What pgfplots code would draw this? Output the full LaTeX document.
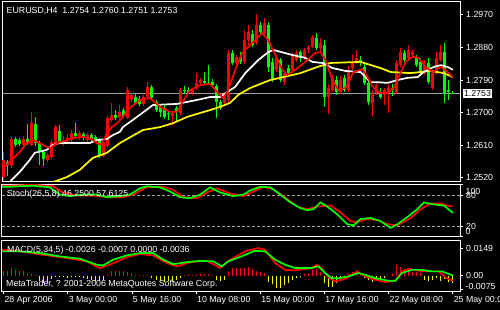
\documentclass[border=0pt]{standalone}
\usepackage{pgfplots}
\usepackage{pgfplotstable}
\pgfplotsset{compat=1.18}
\usepackage{fontspec}
\setmainfont{Liberation Sans}
\definecolor{mtred}{RGB}{255,0,0}
\definecolor{mtlime}{RGB}{0,255,0}
\definecolor{mtyellow}{RGB}{255,255,0}
\definecolor{mtgray}{RGB}{160,160,160}
\newcommand{\mtfont}{\fontsize{8.8}{10}\selectfont}

\pgfplotstableread{
k O H L C
1 1.2522 1.2591 1.2514 1.2569
2 1.2564 1.2569 1.2525 1.2555
3 1.2553 1.2633 1.2547 1.2627
4 1.2627 1.2633 1.2605 1.2611
5 1.2624 1.2630 1.2608 1.2613
6 1.2611 1.2635 1.2608 1.2627
7 1.2627 1.2669 1.2611 1.2616
8 1.2611 1.2702 1.2608 1.2671
9 1.2669 1.2688 1.2608 1.2616
10 1.2616 1.2622 1.2555 1.2594
11 1.2591 1.2597 1.2553 1.2572
12 1.2569 1.2589 1.2564 1.2583
13 1.2578 1.2624 1.2572 1.2619
14 1.2616 1.2666 1.2611 1.2660
15 1.2649 1.2666 1.2613 1.2619
16 1.2619 1.2635 1.2608 1.2624
17 1.2622 1.2641 1.2616 1.2630
18 1.2624 1.2652 1.2619 1.2644
19 1.2644 1.2671 1.2630 1.2635
20 1.2630 1.2649 1.2624 1.2644
21 1.2641 1.2647 1.2624 1.2630
22 1.2624 1.2644 1.2619 1.2638
23 1.2638 1.2644 1.2619 1.2627
24 1.2633 1.2638 1.2619 1.2624
25 1.2624 1.2630 1.2575 1.2583
26 1.2580 1.2624 1.2578 1.2619
27 1.2608 1.2691 1.2602 1.2685
28 1.2680 1.2727 1.2674 1.2693
29 1.2693 1.2707 1.2680 1.2685
30 1.2688 1.2721 1.2682 1.2702
31 1.2707 1.2713 1.2685 1.2691
32 1.2685 1.2771 1.2682 1.2762
33 1.2735 1.2754 1.2729 1.2749
34 1.2743 1.2751 1.2724 1.2727
35 1.2738 1.2746 1.2718 1.2724
36 1.2724 1.2749 1.2718 1.2743
37 1.2743 1.2784 1.2738 1.2771
38 1.2771 1.2776 1.2735 1.2740
39 1.2729 1.2735 1.2702 1.2707
40 1.2716 1.2721 1.2688 1.2702
41 1.2713 1.2718 1.2682 1.2688
42 1.2699 1.2707 1.2680 1.2696
43 1.2691 1.2702 1.2666 1.2699
44 1.2713 1.2718 1.2674 1.2702
45 1.2699 1.2768 1.2693 1.2762
46 1.2762 1.2773 1.2751 1.2760
47 1.2762 1.2771 1.2751 1.2754
48 1.2754 1.2768 1.2749 1.2762
49 1.2768 1.2809 1.2762 1.2782
50 1.2782 1.2796 1.2776 1.2790
51 1.2787 1.2812 1.2776 1.2782
52 1.2782 1.2831 1.2776 1.2779
53 1.2784 1.2793 1.2768 1.2776
54 1.2773 1.2779 1.2685 1.2729
55 1.2729 1.2735 1.2707 1.2713
56 1.2727 1.2749 1.2718 1.2743
57 1.2735 1.2873 1.2727 1.2865
58 1.2865 1.2873 1.2831 1.2837
59 1.2837 1.2859 1.2829 1.2854
60 1.2854 1.2867 1.2834 1.2840
61 1.2840 1.2928 1.2834 1.2900
62 1.2900 1.2942 1.2887 1.2923
63 1.2917 1.2928 1.2881 1.2887
64 1.2892 1.2972 1.2887 1.2942
65 1.2942 1.2950 1.2917 1.2923
66 1.2920 1.2961 1.2914 1.2947
67 1.2942 1.2950 1.2812 1.2826
68 1.2840 1.2851 1.2784 1.2790
69 1.2818 1.2859 1.2812 1.2851
70 1.2845 1.2851 1.2784 1.2790
71 1.2784 1.2818 1.2776 1.2809
72 1.2823 1.2831 1.2801 1.2809
73 1.2818 1.2867 1.2812 1.2859
74 1.2845 1.2873 1.2840 1.2865
75 1.2867 1.2873 1.2840 1.2851
76 1.2851 1.2878 1.2845 1.2873
77 1.2873 1.2887 1.2865 1.2881
78 1.2881 1.2914 1.2878 1.2909
79 1.2906 1.2920 1.2873 1.2878
80 1.2878 1.2906 1.2867 1.2892
81 1.2887 1.2900 1.2716 1.2743
82 1.2743 1.2776 1.2696 1.2768
83 1.2762 1.2804 1.2757 1.2796
84 1.2790 1.2801 1.2749 1.2757
85 1.2757 1.2801 1.2751 1.2790
86 1.2796 1.2804 1.2757 1.2762
87 1.2762 1.2829 1.2757 1.2818
88 1.2823 1.2859 1.2818 1.2840
89 1.2840 1.2873 1.2834 1.2851
90 1.2845 1.2856 1.2829 1.2837
91 1.2826 1.2837 1.2776 1.2782
92 1.2782 1.2790 1.2721 1.2729
93 1.2727 1.2762 1.2691 1.2757
94 1.2754 1.2784 1.2749 1.2776
95 1.2757 1.2768 1.2738 1.2743
96 1.2749 1.2768 1.2721 1.2762
97 1.2757 1.2776 1.2699 1.2768
98 1.2768 1.2779 1.2746 1.2762
99 1.2757 1.2845 1.2751 1.2837
100 1.2831 1.2878 1.2826 1.2867
101 1.2865 1.2873 1.2840 1.2845
102 1.2851 1.2887 1.2845 1.2873
103 1.2859 1.2873 1.2851 1.2867
104 1.2851 1.2859 1.2826 1.2831
105 1.2840 1.2851 1.2804 1.2809
106 1.2812 1.2845 1.2804 1.2831
107 1.2837 1.2851 1.2779 1.2784
108 1.2768 1.2818 1.2762 1.2809
109 1.2809 1.2867 1.2804 1.2851
110 1.2845 1.2887 1.2840 1.2867
111 1.2867 1.2892 1.2727 1.2754
112 1.2762 1.2790 1.2735 1.2757
113 1.2754 1.2760 1.2751 1.2753
}\candles

\pgfplotstableread{
k p
0.5 1.2542
2.5 1.2564
5 1.2591
6.75 1.2616
8.25 1.2624
9.5 1.2619
10.75 1.2611
12.5 1.2602
13.75 1.2611
15 1.2619
16.75 1.2622
18.25 1.2630
20.75 1.2633
23 1.2627
24.25 1.2616
25.5 1.2611
26.75 1.2644
28 1.2660
29.25 1.2671
30.5 1.2685
32.5 1.2713
35 1.2735
37.5 1.2740
40 1.2716
42.5 1.2702
44.25 1.2702
45.5 1.2727
47.5 1.2762
50 1.2776
52.5 1.2779
54.25 1.2757
55.75 1.2740
57 1.2762
58.75 1.2818
60.5 1.2865
63 1.2892
65.5 1.2920
67 1.2900
68.75 1.2859
70.5 1.2818
71.75 1.2804
73.75 1.2818
76.25 1.2840
78.75 1.2865
80 1.2867
81.25 1.2845
83 1.2790
84.5 1.2762
86.25 1.2768
88.25 1.2812
90.5 1.2820
91.75 1.2798
93.25 1.2768
95 1.2754
96.75 1.2754
98.25 1.2768
99.5 1.2798
101.25 1.2840
103 1.2854
104.5 1.2851
106.25 1.2826
108 1.2812
110 1.2826
111.75 1.2812
113 1.2798
}\maredt

\pgfplotstableread{
k p
2.5 1.2508
3 1.2514
5 1.2536
7.5 1.2569
8.75 1.2589
11.75 1.2597
13.25 1.2611
15 1.2616
22.5 1.2616
24.25 1.2624
26.75 1.2627
28.25 1.2638
30 1.2647
30.75 1.2660
34.25 1.2688
38.25 1.2721
44.25 1.2724
49.25 1.2735
52.5 1.2743
55 1.2743
56.75 1.2757
58.75 1.2771
61.25 1.2809
64.5 1.2845
67 1.2867
68.25 1.2873
73 1.2859
76.25 1.2851
78 1.2840
80.5 1.2837
83 1.2823
86.25 1.2815
90 1.2812
92.5 1.2784
94.25 1.2784
96.75 1.2782
99.25 1.2790
101.75 1.2796
104.25 1.2798
105.75 1.2812
108.25 1.2826
110 1.2831
111.75 1.2826
113 1.2818
}\mawhite

\pgfplotstableread{
k p
13.25 1.2508
16.75 1.2522
20 1.2542
23.25 1.2575
26.75 1.2589
30 1.2616
31.75 1.2627
35.75 1.2652
40 1.2660
43.25 1.2671
46.75 1.2688
50 1.2699
52.5 1.2707
55 1.2716
57.5 1.2727
59.5 1.2749
62.5 1.2768
67.5 1.2790
70.75 1.2798
75 1.2809
79.25 1.2826
82.5 1.2837
90 1.2840
95 1.2823
97.5 1.2812
102.5 1.2809
107.5 1.2815
110.75 1.2809
113 1.2798
}\mayellow

\pgfplotstableread{
k v
0.6 96
2.5 96
5 97
8.3 98
12.5 95
15 81
17.5 78
20.8 81
24.2 81
26.7 76
30 78
32.5 81
35 93
36.7 97
40 95
42.5 87
45 76
47.5 74
50 81
52.5 95
55 85
58.3 78
60.8 81
62.5 89
65 96
67.5 95
70 81
72.5 66
75 55
76.7 51
78.3 53
80 66
81.7 58
84.2 43
86.7 24
88.3 22
90 34
92.5 36
95 30
97.5 17
99.2 24
101.7 38
104.2 53
105.8 66
108.3 62
110.8 60
113 46
}\stmain

\pgfplotstableread{
k v
0.6 98
2.5 98
8.3 100
13.3 97
15.8 85
19.2 79
23.3 79
27.5 76
30.8 76
33.3 81
36.7 95
40.8 96
43.3 90
45.8 76
49.2 74
51.7 85
54.2 93
57.5 83
60.8 78
62.5 84
65.8 96
68.3 91
70.8 78
74.2 58
76.7 53
79.2 58
82.5 60
85 47
87.5 30
89.2 28
91.7 34
94.2 32
96.7 24
99.2 22
102.5 36
105 53
107.5 64
110 64
111.7 60
113 58
}\stsignal

\pgfplotstableread{
k v
0.6 0.0131
5 0.0131
10 0.0122
15 0.0104
20 0.0091
24.2 0.0059
25.8 0.0055
28.3 0.0086
31.7 0.0109
35 0.0122
38.3 0.0122
40.8 0.0086
43.3 0.0062
46.7 0.0073
50 0.0080
53.3 0.0077
55.4 0.0050
57 0.0077
60.3 0.0104
63.7 0.0134
66.2 0.0131
68.7 0.0086
71.2 0.0059
73.7 0.0041
77.8 0.0041
79.5 0.0050
81.2 0.0014
82.8 -0.0014
84.5 -0.0014
87 -0.0004
89.5 0.0014
91.2 0.0004
93.7 -0.0014
97 -0.0028
98.7 -0.0028
100.3 0.0014
102.8 0.0031
105.3 0.0031
107.8 0.0023
110.3 0.0023
113 0.0001
}\macdmain

\pgfplotstableread{
k v
0.6 0.0140
5 0.0131
10.8 0.0113
16.7 0.0095
21.7 0.0077
25 0.0041
27.5 0.0059
31.7 0.0099
35 0.0117
38.3 0.0109
41.7 0.0068
44.2 0.0050
47.5 0.0073
51.7 0.0080
55 0.0041
57.5 0.0086
61.2 0.0131
64.5 0.0149
66.2 0.0140
68.7 0.0068
71.2 0.0031
73.7 0.0028
77.8 0.0041
79.1 0.0059
80.3 0.0041
82 -0.0010
83.7 -0.0031
86.2 -0.0017
89.1 0.0023
91.2 -0.0004
93.7 -0.0023
96.2 -0.0035
98.7 -0.0028
100.3 0.0023
102 0.0037
104.5 0.0026
107 0.0023
109.5 0.0023
111.2 -0.0010
113 -0.0028
}\macdsignal

\pgfplotstableread{
k h
1 0.0023
2 0.0027
3 0.0042
4 0.0033
5 0.0023
6 0.0023
7 0.0015
8 0.0009
9 0.0002
10 -0.0027
11 -0.0040
12 -0.0034
13 -0.0016
14 -0.0009
15 -0.0004
16 -0.0005
17 -0.0012
18 -0.0009
19 -0.0008
20 -0.0009
21 -0.0012
22 -0.0016
23 -0.0022
24 -0.0027
25 -0.0031
26 -0.0022
27 0.0005
28 0.0023
29 0.0027
30 0.0023
31 0.0027
32 0.0020
33 0.0015
34 0.0005
35 0.0004
36 0.0003
37 0.0002
38 -0.0011
39 -0.0022
40 -0.0031
41 -0.0034
42 -0.0031
43 -0.0027
44 -0.0022
45 -0.0012
46 0.0003
47 0.0009
48 0.0005
49 0.0009
50 0.0009
51 0.0009
52 0.0009
53 0.0005
54 -0.0022
55 -0.0027
56 -0.0022
57 0.0023
58 0.0040
59 0.0040
60 0.0043
61 0.0043
62 0.0049
63 0.0031
64 0.0025
65 0.0022
66 0.0012
67 -0.0033
68 -0.0047
69 -0.0069
70 -0.0069
71 -0.0050
72 -0.0042
73 -0.0023
74 -0.0011
75 -0.0003
76 0.0007
77 0.0012
78 0.0031
79 0.0036
80 0.0022
81 -0.0042
82 -0.0060
83 -0.0060
84 -0.0042
85 -0.0023
86 -0.0015
87 0.0012
88 0.0022
89 0.0025
90 0.0012
91 -0.0015
92 -0.0023
93 -0.0033
94 -0.0029
95 -0.0018
96 -0.0011
97 0.0004
98 0.0007
99 0.0058
100 0.0049
101 0.0036
102 0.0031
103 0.0022
104 0.0018
105 0.0012
106 -0.0023
107 -0.0029
108 -0.0023
109 -0.0011
110 -0.0029
111 -0.0016
112 -0.0033
113 -0.0042
}\macdhist

\pgfplotsset{
  mtpanel/.style={
    scale only axis, width=458pt, anchor=south west,
    xmin=0.6, xmax=114.8,
    axis line style={white, line width=1pt},
    tick style={white, line width=0.8pt},
    major tick length=3pt, tick align=outside,
    ytick pos=right, yticklabel pos=right,
    xtick pos=left,
    scaled ticks=false,
    ticklabel style={white, font=\mtfont},
    yticklabel style={anchor=west, inner sep=0pt, xshift=3pt},
    /pgf/number format/assume math mode=true,
    clip mode=individual,
  },
}
\tikzset{rlab/.style={anchor=west, white, font=\mtfont, inner sep=0pt, xshift=5.5pt}}

\begin{document}
\begin{tikzpicture}
\path[use as bounding box, fill=black] (0,0) rectangle (500pt,310pt);

% ---------- main price panel ----------
\begin{axis}[mtpanel, at={(2pt,128pt)}, height=180pt,
  ymin=1.25085, ymax=1.30053, xtick=\empty,
  ytick={1.2520,1.2610,1.2700,1.2790,1.2880,1.2970},
  yticklabels={1.2520,1.2610,1.2700,1.2790,1.2880,1.2970}]
\addplot[mtgray, line width=0.8pt] coordinates {(0.6,1.2753) (114.8,1.2753)};
% wicks
\addplot[mtred, line width=1pt, quiver={u=0, v=\thisrow{H}-\thisrow{L}},
  restrict expr to domain={\thisrow{C}-\thisrow{O}}{0:1}] table[x=k, y=L] {\candles};
\addplot[mtlime, line width=1pt, quiver={u=0, v=\thisrow{H}-\thisrow{L}},
  restrict expr to domain={\thisrow{C}-\thisrow{O}}{-1:0}] table[x=k, y=L] {\candles};
% bodies
\addplot[mtred, line width=3pt, quiver={u=0, v=\thisrow{C}-\thisrow{O}},
  restrict expr to domain={\thisrow{C}-\thisrow{O}}{0:1}] table[x=k, y=O] {\candles};
\addplot[mtlime, line width=3pt, quiver={u=0, v=\thisrow{C}-\thisrow{O}},
  restrict expr to domain={\thisrow{C}-\thisrow{O}}{-1:0}] table[x=k, y=O] {\candles};
% moving averages
\addplot[mtyellow, line width=1.7pt] table[x=k, y=p] {\mayellow};
\addplot[white, line width=1.7pt] table[x=k, y=p] {\mawhite};
\addplot[mtred, line width=1.7pt] table[x=k, y=p] {\maredt};
\node[anchor=north west, white, font=\mtfont, inner sep=0pt] at (rel axis cs:0,1) [xshift=4.5pt, yshift=-5pt]
  {EURUSD,H4\ \ 1.2754 1.2760 1.2751 1.2753};
\node[anchor=west, fill=white, text=black, font=\mtfont, inner sep=1.3pt] at (axis cs:114.8,1.2753) [xshift=2.5pt] {1.2753};
\end{axis}

% ---------- stochastic panel ----------
\begin{axis}[mtpanel, at={(2pt,73.3pt)}, height=52pt,
  ymin=0, ymax=100, xtick=\empty,
  ytick={0,20,80,100},
  yticklabels={,20,80,}]
\addplot[mtgray, line width=0.7pt, dash pattern=on 3pt off 2pt] coordinates {(0.6,20) (114.8,20)};
\addplot[mtgray, line width=0.7pt, dash pattern=on 3pt off 2pt] coordinates {(0.6,80) (114.8,80)};
\addplot[mtred, line width=1.7pt] table[x=k, y=v] {\stsignal};
\addplot[mtlime, line width=1.7pt] table[x=k, y=v] {\stmain};
\node[anchor=west, white, font=\mtfont, inner sep=0pt] at (rel axis cs:0,1) [xshift=4.7pt, yshift=-9.5pt]
  {Stoch(26,5,8) 46.2500 57.6125};
\node[rlab] at (rel axis cs:1,1) [yshift=-6.8pt] {100};
\node[rlab] at (rel axis cs:1,0) [yshift=5.2pt] {0};
\end{axis}

% ---------- MACD panel ----------
\begin{axis}[mtpanel, at={(2pt,18.5pt)}, height=50.8pt,
  ymin=-0.00856, ymax=0.01886,
  ytick={-0.0075,0,0.0149},
  yticklabels={,0.00,0.0149},
  xtick={1,17,33,49,65,81,97,113},
  xticklabels={28 Apr 2006,3 May 00:00,5 May 16:00,10 May 08:00,15 May 00:00,17 May 16:00,22 May 08:00,25 May 00:00},
  xticklabel style={anchor=north west, inner sep=0pt, xshift=0.8pt, yshift=-2pt}]
\addplot[mtred, line width=1pt, quiver={u=0, v=\thisrow{h}},
  restrict expr to domain={\thisrow{h}}{0:1}] table[x=k, y expr=0] {\macdhist};
\addplot[mtyellow, line width=1pt, quiver={u=0, v=\thisrow{h}},
  restrict expr to domain={\thisrow{h}}{-1:0}] table[x=k, y expr=0] {\macdhist};
\addplot[mtred, line width=1.7pt] table[x=k, y=v] {\macdsignal};
\addplot[mtlime, line width=1.7pt] table[x=k, y=v] {\macdmain};
\node[anchor=west, white, font=\mtfont, inner sep=0pt] at (rel axis cs:0,1) [xshift=5pt, yshift=-10pt]
  {MACD(5,34,5) -0.0026 -0.0007 0.0000 -0.0036};
\node[anchor=west, white, font=\mtfont, inner sep=0pt] at (rel axis cs:0,0) [xshift=4pt, yshift=7.5pt]
  {MetaTrader, ? 2001-2006 MetaQuotes Software Corp.};
\node[rlab] at (rel axis cs:1,0) [yshift=5.5pt] {-0.0075};
\end{axis}
\end{tikzpicture}
\end{document}
